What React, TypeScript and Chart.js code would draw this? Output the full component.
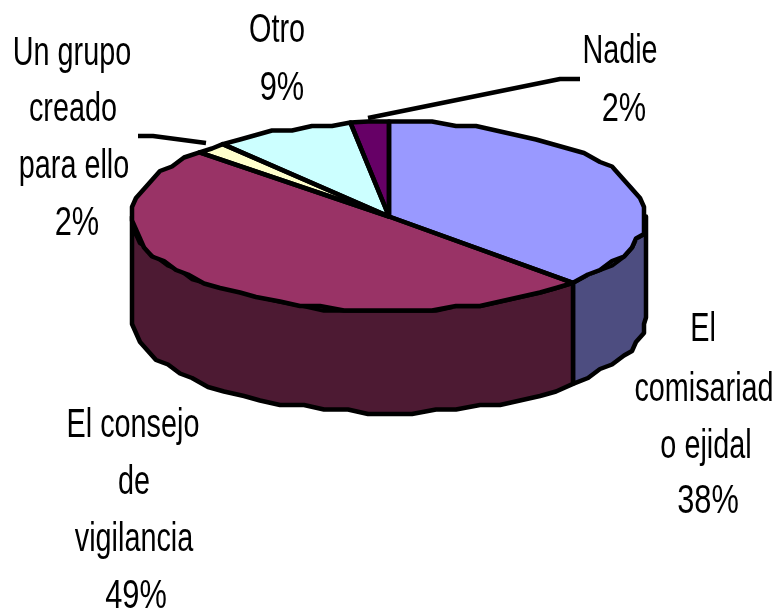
import React, { useEffect, useRef } from "react";
import { Chart, registerables } from "chart.js";

Chart.register(...registerables);

const categories = ["El comisariado ejidal", "El consejo de vigilancia", "Un grupo creado para ello", "Otro", "Nadie"];
const values = [37.3, 49.5, 2.0, 8.8, 2.4];
const topColors = ["#9999FF", "#993366", "#FFFFCC", "#CCFFFF", "#660066"];
const wallColors = ["#4D4D80", "#4D1A33", "#808066", "#668080", "#330033"];

const labelLines = [
  { lines: ["El", "comisariad", "o ejidal", "38%"], x: [703, 704, 706, 708], y: [330, 390, 447, 502] },
  { lines: ["El consejo", "de", "vigilancia", "49%"], x: [133, 134, 134, 136], y: [426, 483, 540, 597] },
  { lines: ["Un grupo", "creado", "para ello", "2%"], x: [72, 73, 74, 77], y: [54, 110, 167, 224] },
  { lines: ["Otro", "9%"], x: [277, 282], y: [31, 89] },
  { lines: ["Nadie", "2%"], x: [620, 624], y: [52, 110] },
];
const leaders = [
  [[368, 118], [560, 79], [580, 79]],
  [[206, 143], [153, 136], [138, 136]],
];

const CX = 389, CY = 216.5, RX = 257, RY = 95, DEPTH = 101, LINE = 4.5;

// Coarse polyline along the rim, to keep the stepped edge of the low-resolution original.
function rimPoints(a: number, b: number, dy: number) {
  const n = Math.max(2, Math.ceil(Math.abs(b - a) / 0.09));
  const pts: number[][] = [];
  for (let i = 0; i <= n; i++) {
    const t = a + ((b - a) * i) / n;
    const x = CX + RX * Math.cos(t);
    const y = CY + RY * Math.sin(t) + dy;
    if (i === 0 || i === n) pts.push([x, y]);
    else pts.push([Math.round(x / 4) * 4, Math.round(y / 4.5) * 4.5]);
  }
  return pts;
}

const pie3d = {
  id: "pie3d",
  beforeDatasetsDraw(chart: any) {
    const ctx = chart.ctx;
    const arcs = chart.getDatasetMeta(0).data;
    ctx.save();
    ctx.lineWidth = LINE;
    ctx.lineJoin = "round";
    ctx.strokeStyle = "#000";
    arcs.forEach((arc: any, i: number) => {
      const a = Math.max(arc.startAngle, 0);
      const b = Math.min(arc.endAngle, Math.PI);
      if (b <= a) return;
      ctx.beginPath();
      rimPoints(a, b, 0).forEach((p, k) => (k ? ctx.lineTo(p[0], p[1]) : ctx.moveTo(p[0], p[1])));
      rimPoints(b, a, DEPTH).forEach((p) => ctx.lineTo(p[0], p[1]));
      ctx.closePath();
      ctx.fillStyle = wallColors[i];
      ctx.fill();
      ctx.stroke();
    });
    ctx.restore();
  },
  beforeDatasetDraw(chart: any) {
    const ctx = chart.ctx;
    const arc = chart.getDatasetMeta(0).data[0];
    const R = arc.outerRadius;
    ctx.save();
    ctx.translate(CX, CY);
    ctx.scale(RX / R, RY / R);
    ctx.translate(-arc.x, -arc.y);
  },
  afterDatasetDraw(chart: any) {
    const ctx = chart.ctx;
    ctx.restore();
    ctx.save();
    ctx.lineWidth = LINE;
    ctx.lineJoin = "round";
    ctx.strokeStyle = "#000";
    chart.getDatasetMeta(0).data.forEach((arc: any) => {
      ctx.beginPath();
      ctx.moveTo(CX, CY);
      rimPoints(arc.startAngle, arc.endAngle, 0).forEach((p) => ctx.lineTo(p[0], p[1]));
      ctx.closePath();
      ctx.stroke();
    });
    leaders.forEach((pts) => {
      ctx.beginPath();
      pts.forEach((p, i) => (i ? ctx.lineTo(p[0], p[1]) : ctx.moveTo(p[0], p[1])));
      ctx.stroke();
    });
    ctx.restore();
  },
  afterDraw(chart: any) {
    const ctx = chart.ctx;
    ctx.save();
    ctx.fillStyle = "#000";
    ctx.font = '40px "Liberation Sans"';
    ctx.textAlign = "center";
    ctx.textBaseline = "middle";
    labelLines.forEach((l) => {
      l.lines.forEach((t, i) => {
        ctx.save();
        ctx.translate(l.x[i], l.y[i]);
        ctx.scale(t.endsWith("%") ? 0.77 : 0.72, 1);
        ctx.fillText(t, 0, 0);
        ctx.restore();
      });
    });
    ctx.restore();
  },
};

export default function App() {
  const ref = useRef<HTMLCanvasElement>(null);
  useEffect(() => {
    const chart = new Chart(ref.current!, {
      type: "pie",
      data: {
        labels: categories,
        datasets: [{ data: values, backgroundColor: topColors, borderWidth: 0, clip: false } as any],
      },
      options: {
        responsive: false,
        animation: false,
        plugins: { legend: { display: false }, tooltip: { enabled: false } },
      },
      plugins: [pie3d],
    });
    return () => chart.destroy();
  }, []);
  return (
    <div style={{ position: "fixed", left: 0, top: 0 }}>
      <canvas ref={ref} width={776} height={609} style={{ display: "block" }} />
    </div>
  );
}
